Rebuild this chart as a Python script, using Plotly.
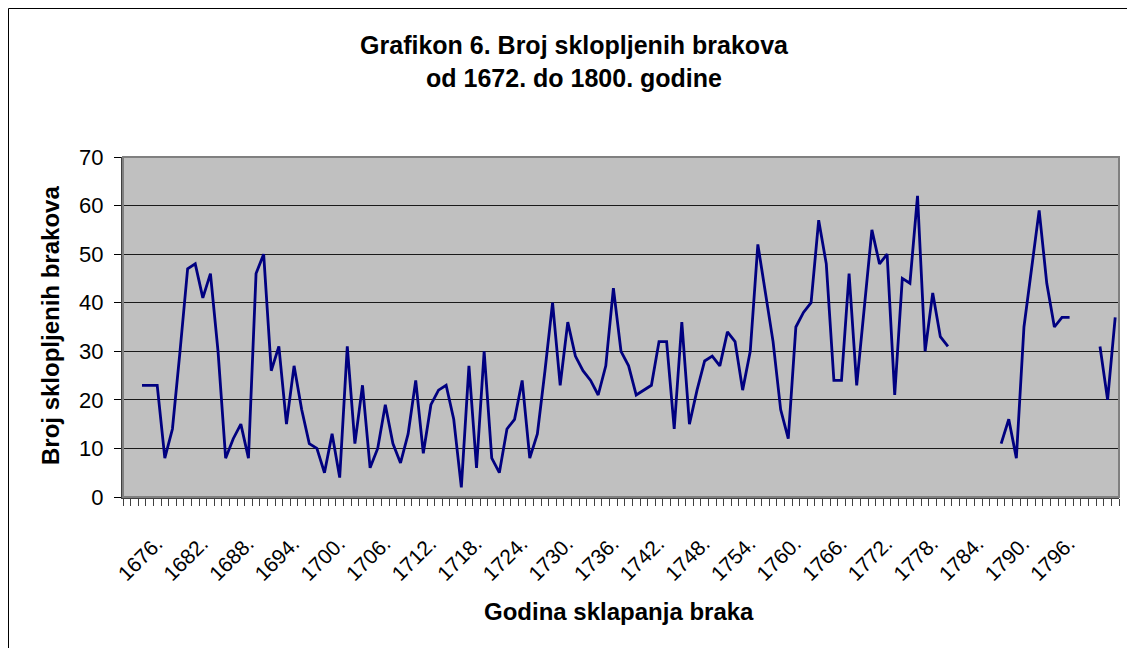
import plotly.graph_objects as go

# Data: number of marriages per year, 1672-1800 (None = no data)
years = list(range(1672, 1801))
marriages = [
    23, 23, 23, 8, 14, 30, 47, 48, 41, 46,          # 1672-1681
    30, 8, 12, 15, 8, 46, 50, 26, 31, 15,           # 1682-1691
    27, 18, 11, 10, 5, 13, 4, 31, 11, 23,           # 1692-1701
    6, 10, 19, 11, 7, 13, 24, 9, 19, 22,            # 1702-1711
    23, 16, 2, 27, 6, 30, 8, 5, 14, 16,             # 1712-1721
    24, 8, 13, 26, 40, 23, 36, 29, 26, 24,          # 1722-1731
    21, 27, 43, 30, 27, 21, 22, 23, 32, 32,         # 1732-1741
    14, 36, 15, 22, 28, 29, 27, 34, 32, 22,         # 1742-1751
    30, 52, 42, 32, 18, 12, 35, 38, 40, 57,         # 1752-1761
    48, 24, 24, 46, 23, 39, 55, 48, 50, 21,         # 1762-1771
    45, 44, 62, 30, 42, 33, 31, None, None, None,   # 1772-1781
    None, None, None, 11, 16, 8, 35, 47, 59, 44,    # 1782-1791
    35, 37, 37, None, None, None, 31, 20, 37,       # 1792-1800
]
tick_years = list(range(1676, 1800, 6))
tick_labels = [f"{y}." for y in tick_years]

title_text = "<b>Grafikon 6. Broj sklopljenih brakova<br>od 1672. do 1800. godine</b>"
x_title = "<b>Godina sklapanja braka</b>"
y_title = "<b>Broj sklopljenih brakova</b>"

FONT = "Arial, 'Liberation Sans', sans-serif"

fig = go.Figure()
fig.add_trace(go.Scatter(
    x=years, y=marriages, mode="lines",
    line=dict(color="#000080", width=2.8),
    connectgaps=False, showlegend=False, hoverinfo="x+y",
))

L, R, T, B = 123, 8, 157, 151
W, H = 1127, 648
pw, ph = W - L - R, H - T - B

def px_x(px):
    return (px - L) / pw

def px_y(py):
    return (H - B - py) / ph

fig.update_layout(
    width=W, height=H,
    margin=dict(l=L, r=R, t=T, b=B, pad=0),
    paper_bgcolor="white",
    plot_bgcolor="#C0C0C0",
    font=dict(family=FONT, color="black"),
    title=dict(
        text=title_text,
        x=574 / W, xanchor="center",
        y=1 - 54 / H, yanchor="middle",
        font=dict(size=25, family=FONT, color="black"),
    ),
    xaxis=dict(
        range=[1669.5, 1800.5],
        tickmode="array", tickvals=tick_years, ticktext=tick_labels,
        tickangle=-45,
        tickfont=dict(size=21, family=FONT, color="black"),
        ticks="", ticklen=0,
        ticklabelstandoff=24,
        ticklabelshift=-16,
        minor=dict(ticks="outside", ticklen=7, tickwidth=1, tickcolor="#404040",
                   tickmode="linear", tick0=1669.5, dtick=1, showgrid=False),
        showgrid=False, zeroline=False,
        showline=True, linecolor="#404040", linewidth=2,
        fixedrange=True,
    ),
    yaxis=dict(
        range=[0, 70], dtick=10, tick0=0,
        tickfont=dict(size=22, family=FONT, color="black"),
        ticks="outside", ticklen=7, tickwidth=1, tickcolor="black",
        ticklabelstandoff=6,
        showgrid=True, gridcolor="#1a1a1a", gridwidth=1,
        zeroline=False,
        showline=True, linecolor="#404040", linewidth=2,
        fixedrange=True,
    ),
    annotations=[
        dict(text=x_title, xref="paper", yref="paper",
             x=px_x(619), y=px_y(611), xanchor="center", yanchor="middle",
             showarrow=False, font=dict(size=24, family=FONT, color="black")),
        dict(text=y_title, xref="paper", yref="paper",
             x=px_x(50), y=px_y(326), xanchor="center", yanchor="middle",
             textangle=-90,
             showarrow=False, font=dict(size=24, family=FONT, color="black")),
    ],
    shapes=[
        # plot area border
        dict(type="rect", xref="paper", yref="paper", x0=0, y0=0, x1=1, y1=1,
             line=dict(color="#808080", width=2), fillcolor="rgba(0,0,0,0)", layer="above"),
        # chart frame
        dict(type="rect", xref="paper", yref="paper",
             x0=px_x(8.5), y0=px_y(700), x1=px_x(1160), y1=px_y(8.5),
             line=dict(color="black", width=1), fillcolor="rgba(0,0,0,0)"),
    ],
)

fig.write_html(
    "out.html",
    config={"displayModeBar": False},
    post_script="document.body.style.margin='0';document.body.style.padding='0';"
                "document.documentElement.style.overflow='hidden';",
)
